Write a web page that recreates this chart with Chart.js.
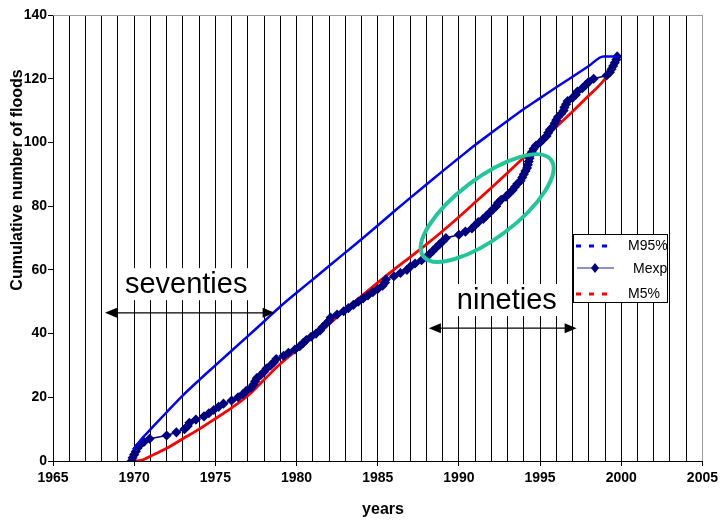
<!DOCTYPE html>
<html>
<head>
<meta charset="utf-8">
<title>Cumulative number of floods</title>
<script src="https://cdn.jsdelivr.net/npm/chart.js@4.4.0/dist/chart.umd.min.js"></script>
<style>
  html, body { margin: 0; padding: 0; background: #fff; }
  #wrap { width: 722px; height: 523px; }
</style>
</head>
<body>
<div id="wrap"><canvas id="floods" width="722" height="523"></canvas></div>
<script>
// ---- data ----
// observed cumulative floods (Mexp)
const mexpYears = [1969.84, 1969.9, 1970.0, 1970.1, 1970.2, 1970.35, 1970.6, 1970.95, 1972.0, 1972.6,
  1973.1, 1973.3, 1973.4, 1973.8, 1974.3, 1974.6, 1974.9, 1975.2, 1975.5, 1976.0,
  1976.4, 1976.7, 1976.9, 1977.2, 1977.35, 1977.45, 1977.55, 1977.8, 1978.0, 1978.15,
  1978.4, 1978.6, 1978.75, 1979.2, 1979.5, 1979.9, 1980.2, 1980.4, 1980.6, 1980.9,
  1981.2, 1981.45, 1981.6, 1981.8, 1982.0, 1982.1, 1982.5, 1982.9, 1983.2, 1983.5,
  1983.8, 1984.1, 1984.4, 1984.7, 1985.0, 1985.3, 1985.45, 1985.5, 1986.0, 1986.4,
  1986.8, 1987.0, 1987.3, 1987.7, 1988.0, 1988.2, 1988.4, 1988.6, 1988.8, 1989.0,
  1989.2, 1990.0, 1990.4, 1990.8, 1991.0, 1991.2, 1991.5, 1991.7, 1991.9, 1992.1,
  1992.3, 1992.4, 1992.6, 1992.9, 1993.1, 1993.3, 1993.45, 1993.6, 1993.8, 1993.9,
  1994.0, 1994.1, 1994.2, 1994.25, 1994.3, 1994.35, 1994.4, 1994.5, 1994.6, 1994.75,
  1995.0, 1995.2, 1995.4, 1995.5, 1995.6, 1995.8, 1995.9, 1996.0, 1996.1, 1996.3,
  1996.45, 1996.5, 1996.6, 1996.7, 1997.0, 1997.2, 1997.3, 1997.6, 1997.8, 1998.0,
  1998.3, 1999.1, 1999.3, 1999.4, 1999.5, 1999.6, 1999.7, 1999.75];
const mexpCounts = [0, 1, 2, 3, 4, 5, 6, 7, 8, 9,
  10, 11, 12, 13, 14, 15, 16, 17, 18, 19,
  20, 21, 22, 23, 24, 25, 26, 27, 28, 29,
  30, 31, 32, 33, 34, 35, 36, 37, 38, 39,
  40, 41, 42, 43, 44, 45, 46, 47, 48, 49,
  50, 51, 52, 53, 54, 55, 56, 57, 58, 59,
  60, 61, 62, 63, 64, 65, 66, 67, 68, 69,
  70, 71, 72, 73, 74, 75, 76, 77, 78, 79,
  80, 81, 82, 83, 84, 85, 86, 87, 88, 89,
  90, 91, 92, 93, 94, 95, 96, 97, 98, 99,
  100, 101, 102, 103, 104, 105, 106, 107, 108, 109,
  110, 111, 112, 113, 114, 115, 116, 117, 118, 119,
  120, 121, 122, 123, 124, 125, 126, 127];

// upper 95% envelope
const m95Years = [1969.93, 1970.5, 1971, 1972, 1973, 1974, 1975, 1976, 1977, 1978, 1979, 1980,
  1981, 1982, 1983, 1984, 1985, 1986, 1987, 1988, 1989, 1990, 1991, 1992, 1993, 1994,
  1995, 1996, 1997, 1998, 1998.9, 1999.75];
const m95Values = [3.5, 7.2, 9.9, 15.3, 20.6, 25.4, 30, 34.6, 39.2, 43.8, 48.5, 52.8,
  57, 61.2, 65.4, 69.6, 73.9, 78.3, 82.6, 86.8, 91, 95.1, 99.2, 103, 106.8, 110.5,
  113.9, 117.3, 120.6, 124, 127, 127];

// lower 5% envelope
const m5Years = [1969.9, 1970.5, 1971, 1972, 1973, 1974, 1975, 1976, 1977, 1978, 1979, 1980,
  1981, 1982, 1983, 1984, 1985, 1986, 1987, 1988, 1989, 1990, 1991, 1992, 1993, 1994,
  1995, 1996, 1997, 1998, 1999, 1999.7];
const m5Values = [0, 0.3, 1.5, 4, 7, 10, 13.3, 16.7, 20.5, 25.5, 30.5, 34.8,
  39, 43, 47.5, 51.8, 56, 60.1, 64, 68, 72.2, 76.6, 81.2, 85.8, 90.5, 95.3,
  100.1, 104.9, 109.7, 114.7, 120, 126];

// axes
const xMin = 1965, xMax = 2005, xLabelStep = 5;
const yMin = 0, yMax = 140, yStep = 20;

// annotations (in data units)
const seventiesArrow = { from: 1968.2, to: 1978.65, at: 46.5 };
const ninetiesArrow = { from: 1988.15, to: 1997.25, at: 41.7 };
const seventiesText = { x: 1973.2, y: 55.5 };
const ninetiesText = { x: 1992.95, y: 50.5 };
const ellipseCentre = { x: 1991.74, y: 79.4 };

const FONT = '"Liberation Sans", Arial, Helvetica, sans-serif';

function pts(xs, ys) {
  return xs.map(function (x, i) { return { x: x, y: ys[i] }; });
}

function arrow(ctx, x1, x2, y) {
  ctx.beginPath();
  ctx.moveTo(x1 + 10, y);
  ctx.lineTo(x2 - 10, y);
  ctx.stroke();
  [[x1, 1], [x2, -1]].forEach(function (e) {
    ctx.beginPath();
    ctx.moveTo(e[0], y);
    ctx.lineTo(e[0] + 12 * e[1], y - 5);
    ctx.lineTo(e[0] + 12 * e[1], y + 5);
    ctx.closePath();
    ctx.fill();
  });
}

function boxedText(ctx, txt, cx, cy) {
  ctx.font = '29px ' + FONT;
  const w = ctx.measureText(txt).width;
  ctx.fillStyle = '#fff';
  ctx.fillRect(cx - w / 2 - 3, cy - 16, w + 6, 32);
  ctx.fillStyle = '#000';
  ctx.textAlign = 'center';
  ctx.textBaseline = 'middle';
  ctx.fillText(txt, cx, cy + 1);
}

const extras = {
  id: 'extras',
  beforeDatasetsDraw: function (chart) {
    const ctx = chart.ctx, a = chart.chartArea, x = chart.scales.x, y = chart.scales.y;
    ctx.save();
    // top frame line
    ctx.strokeStyle = '#9a9a9a';
    ctx.lineWidth = 1;
    ctx.beginPath();
    ctx.moveTo(a.left, a.top + 0.5);
    ctx.lineTo(a.right, a.top + 0.5);
    ctx.stroke();
    // text boxes sit over the grid
    boxedText(ctx, 'seventies', x.getPixelForValue(seventiesText.x), y.getPixelForValue(seventiesText.y));
    boxedText(ctx, 'nineties', x.getPixelForValue(ninetiesText.x), y.getPixelForValue(ninetiesText.y));
    ctx.restore();
  },
  afterDatasetsDraw: function (chart) {
    const ctx = chart.ctx, x = chart.scales.x, y = chart.scales.y;
    ctx.save();
    // arrows
    ctx.strokeStyle = '#000';
    ctx.fillStyle = '#000';
    ctx.lineWidth = 1.3;
    arrow(ctx, x.getPixelForValue(seventiesArrow.from), x.getPixelForValue(seventiesArrow.to),
      y.getPixelForValue(seventiesArrow.at));
    arrow(ctx, x.getPixelForValue(ninetiesArrow.from), x.getPixelForValue(ninetiesArrow.to),
      y.getPixelForValue(ninetiesArrow.at));

    // green ellipse round the nineties
    ctx.strokeStyle = '#21c79b';
    ctx.lineWidth = 4;
    ctx.beginPath();
    ctx.ellipse(x.getPixelForValue(ellipseCentre.x), y.getPixelForValue(ellipseCentre.y),
      80, 30, -37 * Math.PI / 180, 0, 2 * Math.PI);
    ctx.stroke();

    // legend box
    const lx = 573, ly = 234, lw = 94, lh = 68;
    ctx.fillStyle = '#fff';
    ctx.fillRect(lx, ly, lw, lh);
    ctx.strokeStyle = '#000';
    ctx.lineWidth = 1;
    ctx.strokeRect(lx + 0.5, ly + 0.5, lw, lh);

    ctx.lineWidth = 3;
    ctx.setLineDash([5, 8]);
    ctx.strokeStyle = '#0000ff';
    ctx.beginPath(); ctx.moveTo(576, 246); ctx.lineTo(612, 246); ctx.stroke();
    ctx.strokeStyle = '#ff0000';
    ctx.beginPath(); ctx.moveTo(576, 294); ctx.lineTo(612, 294); ctx.stroke();
    ctx.setLineDash([]);
    ctx.lineWidth = 1.5;
    ctx.strokeStyle = '#6a6ac4';
    ctx.beginPath(); ctx.moveTo(577, 268); ctx.lineTo(614, 268); ctx.stroke();
    ctx.fillStyle = '#000080';
    ctx.beginPath();
    ctx.moveTo(595, 263); ctx.lineTo(599, 268); ctx.lineTo(595, 273); ctx.lineTo(591, 268);
    ctx.closePath(); ctx.fill();

    ctx.fillStyle = '#000';
    ctx.font = '14px ' + FONT;
    ctx.textAlign = 'left';
    ctx.textBaseline = 'middle';
    ctx.fillText('M95%', 628, 246);
    ctx.fillText('Mexp', 633, 269);
    ctx.fillText('M5%', 628, 294);
    ctx.restore();
  },
  afterDraw: function (chart) {
    const ctx = chart.ctx;
    ctx.save();
    ctx.fillStyle = '#000';
    ctx.font = 'bold 16px ' + FONT;
    ctx.textAlign = 'center';
    ctx.textBaseline = 'middle';
    ctx.fillText('years', 383, 510);
    ctx.translate(18, 180);
    ctx.rotate(-Math.PI / 2);
    ctx.fillText('Cumulative number of floods', 0, 0);
    ctx.restore();
  }
};

new Chart(document.getElementById('floods').getContext('2d'), {
  type: 'line',
  data: {
    datasets: [
      {
        label: 'M95%',
        data: pts(m95Years, m95Values),
        borderColor: '#0000ff',
        borderWidth: 2.5,
        pointRadius: 0,
        cubicInterpolationMode: 'monotone',
        fill: false
      },
      {
        label: 'Mexp',
        data: pts(mexpYears, mexpCounts),
        borderColor: '#000080',
        backgroundColor: '#000080',
        borderWidth: 1.5,
        pointStyle: 'rectRot',
        pointRadius: 4,
        pointBorderWidth: 1.5,
        fill: false
      },
      {
        label: 'M5%',
        data: pts(m5Years, m5Values),
        borderColor: '#ff0000',
        borderWidth: 2.8,
        pointRadius: 0,
        cubicInterpolationMode: 'monotone',
        fill: false
      }
    ]
  },
  options: {
    responsive: false,
    animation: false,
    devicePixelRatio: 1,
    events: [],
    layout: { padding: { top: 15, right: 18, left: 0, bottom: 0 } },
    plugins: { legend: { display: false }, tooltip: { enabled: false } },
    scales: {
      x: {
        type: 'linear',
        min: xMin,
        max: xMax,
        afterFit: function (s) { s.height = 62; },
        border: { display: true, color: '#000', width: 1 },
        grid: {
          color: function (c) { return c.tick && c.tick.value === xMax ? '#9a9a9a' : '#000'; },
          tickColor: function (c) { return c.tick && c.tick.value % xLabelStep === 0 ? '#000' : 'rgba(0,0,0,0)'; },
          tickLength: 5,
          lineWidth: 1
        },
        ticks: {
          stepSize: 1,
          autoSkip: false,
          maxRotation: 0,
          padding: 4,
          color: '#000',
          font: { family: FONT, size: 14, weight: 'bold' },
          callback: function (v) { return v % xLabelStep === 0 ? String(v) : ''; }
        }
      },
      y: {
        min: yMin,
        max: yMax,
        afterFit: function (s) { s.width = 53; },
        border: { display: true, color: '#000', width: 1 },
        grid: { drawOnChartArea: false, tickLength: 5, tickColor: '#000' },
        ticks: {
          stepSize: yStep,
          padding: 1,
          color: '#000',
          font: { family: FONT, size: 14, weight: 'bold' }
        }
      }
    }
  },
  plugins: [extras]
});
</script>
</body>
</html>
